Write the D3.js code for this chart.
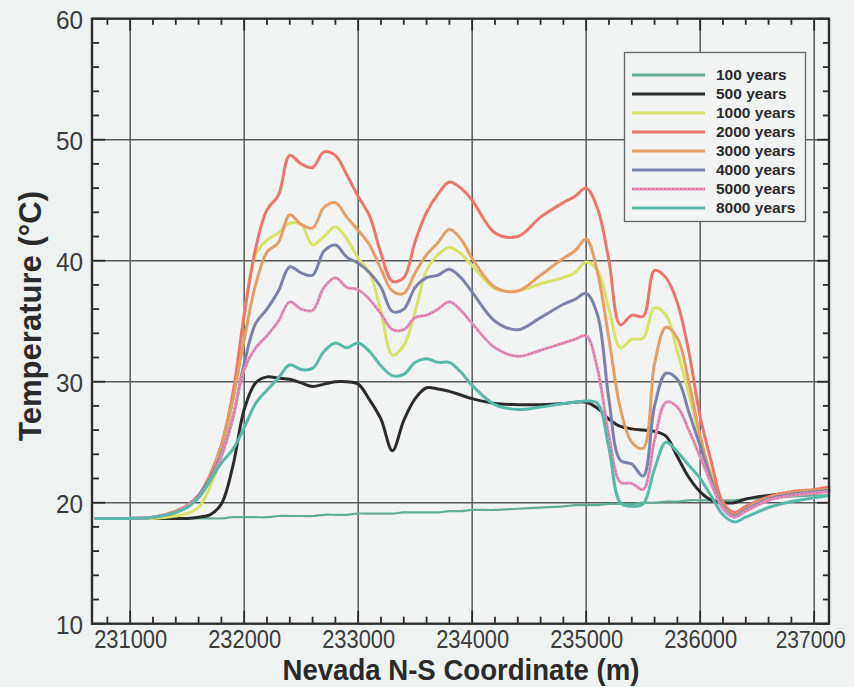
<!DOCTYPE html>
<html><head><meta charset="utf-8">
<script src="https://cdn.jsdelivr.net/npm/d3@7"></script>
<style>
html,body{margin:0;padding:0;background:#eef2f1;}
svg{display:block;}
text{font-family:"Liberation Sans Narrow","Arial Narrow","Liberation Sans",Arial,sans-serif;}
</style></head>
<body>
<svg id="chart" width="854" height="687"></svg>
<script>
// ---- data ----
const xCoords = [230700,231000,231200,231400,231500,231600,231700,231800,231900,232000,232100,232200,232300,232400,232500,232600,232700,232800,232900,233000,233100,233200,233300,233400,233500,233600,233700,233800,233900,234000,234200,234400,234600,234800,234900,235000,235100,235200,235300,235400,235500,235600,235700,235800,235900,236000,236100,236200,236300,236400,236600,236800,237000,237130];

const t100  = [18.7,18.7,18.7,18.7,18.7,18.7,18.7,18.7,18.8,18.8,18.8,18.8,18.9,18.9,18.9,18.9,19.0,19.0,19.0,19.1,19.1,19.1,19.1,19.2,19.2,19.2,19.2,19.3,19.3,19.4,19.4,19.5,19.6,19.7,19.8,19.8,19.8,19.9,19.9,19.9,20.0,20.0,20.1,20.1,20.2,20.2,20.2,20.2,20.2,20.3,20.4,20.5,20.6,20.6];
const t500  = [18.7,18.7,18.7,18.7,18.7,18.8,19.0,19.9,23.0,27.7,29.9,30.4,30.3,30.2,29.9,29.6,29.8,30.0,30.0,29.8,28.5,26.9,24.3,26.8,28.6,29.5,29.4,29.2,28.9,28.6,28.2,28.1,28.1,28.2,28.3,28.3,27.8,26.9,26.3,26.1,26.0,25.9,25.5,23.8,22.1,20.9,20.2,20.0,20.0,20.3,20.6,20.8,20.9,21.0];
const t1000 = [18.7,18.7,18.7,18.9,19.1,19.6,21.3,24.0,28.5,35.5,40.5,41.7,42.3,43.1,43.0,41.3,42.0,42.8,41.8,40.2,39.0,35.8,32.2,33.0,35.8,39.2,40.5,41.1,40.6,39.6,37.7,37.5,38.1,38.6,39.0,39.9,39.2,36.0,32.8,33.5,33.6,36.1,35.5,32.5,29.0,25.3,22.3,20.0,19.1,19.6,20.4,20.8,21.0,21.1];
const t2000 = [18.7,18.7,18.8,19.3,19.8,20.6,22.3,24.8,29.0,35.5,41.0,44.2,45.4,48.7,48.0,47.7,49.0,48.7,47.1,45.3,43.7,40.6,38.3,38.6,41.6,44.0,45.5,46.5,46.0,45.0,42.3,42.0,43.6,44.8,45.3,46.0,44.3,40.0,34.7,35.5,35.4,39.2,38.6,36.5,32.5,27.1,23.3,20.0,19.2,19.7,20.5,20.9,21.1,21.3];
const t3000 = [18.7,18.7,18.8,19.2,19.7,20.6,22.2,24.7,28.5,33.5,38.0,40.7,41.5,43.8,43.0,42.7,44.4,44.8,43.6,42.5,41.3,39.3,37.5,37.3,39.0,40.5,41.5,42.6,41.8,40.2,37.8,37.5,38.8,40.2,40.8,41.8,39.0,33.5,27.8,25.0,24.5,31.5,34.5,33.6,30.0,25.5,22.0,19.7,19.0,19.5,20.4,20.8,21.0,21.1];
const t4000 = [18.7,18.7,18.8,19.2,19.7,20.6,22.0,24.0,27.0,31.5,34.8,36.0,37.5,39.5,39.0,38.8,40.8,41.3,40.3,39.8,39.0,37.8,35.8,36.0,37.8,38.6,38.8,39.3,38.6,37.4,35.0,34.3,35.3,36.4,36.8,37.3,35.5,28.5,23.5,23.2,22.2,28.0,30.7,30.2,27.5,24.7,21.8,19.6,18.9,19.4,20.3,20.7,20.9,21.0];
const t5000 = [18.7,18.7,18.8,19.2,19.7,20.5,21.8,23.8,27.0,31.0,32.8,33.8,35.0,36.6,36.0,35.9,37.8,38.6,37.8,37.6,36.8,35.6,34.3,34.3,35.3,35.5,36.0,36.6,35.9,34.8,32.8,32.1,32.6,33.2,33.5,33.8,31.0,25.5,21.7,21.6,21.1,25.2,28.3,27.9,26.0,23.8,21.5,19.5,18.8,19.3,20.2,20.6,20.8,20.9];
const t8000 = [18.7,18.7,18.8,19.2,19.6,20.4,21.8,23.3,24.4,26.2,28.2,29.3,30.3,31.4,31.0,31.1,32.5,33.2,32.8,33.2,32.5,31.3,30.5,30.6,31.6,31.9,31.6,31.6,30.8,29.7,28.1,27.7,27.9,28.2,28.3,28.4,28.2,24.5,20.0,19.7,19.9,22.8,25.0,24.2,23.1,22.0,20.5,19.0,18.4,18.8,19.6,20.1,20.4,20.6];

const seriesNames = ["100 years","500 years","1000 years","2000 years","3000 years","4000 years","5000 years","8000 years"];
const seriesColors = ["#62ad93","#2b2b2b","#d9e266","#ec766d","#e39f66","#7b82aa","#df93c6","#57b9a9"];
const seriesValues = [t100,t500,t1000,t2000,t3000,t4000,t5000,t8000];

const xTicks = [231000,232000,233000,234000,235000,236000,237000];
const yTicks = [10,20,30,40,50,60];

// ---- layout ----
const svg = d3.select("#chart");
const L = 92, R = 829, T = 18.7, B = 623.7;
const x = d3.scaleLinear().domain([230665, 237130]).range([L, R]);
const y = d3.scaleLinear().domain([10, 60]).range([B, T]);
const FONT = "Liberation Sans Narrow, Arial Narrow, Liberation Sans, Arial, sans-serif";

svg.append("rect").attr("x",L).attr("y",T).attr("width",R-L).attr("height",B-T).attr("fill","#f1f4f3");

// grid
const g = svg.append("g");
g.selectAll("line.vg").data(xTicks).join("line").attr("class","vg")
  .attr("x1",d=>x(d)).attr("x2",d=>x(d)).attr("y1",T).attr("y2",B)
  .attr("stroke","#575b5e").attr("stroke-width",1.5);
g.selectAll("line.hg").data(yTicks.slice(1,-1)).join("line").attr("class","hg")
  .attr("x1",L).attr("x2",R).attr("y1",d=>y(d)).attr("y2",d=>y(d))
  .attr("stroke","#575b5e").attr("stroke-width",1.5);

// inward tick marks on all four sides
const xMinor = d3.range(230800, 237130, 200).filter(v => v % 1000 !== 0);
const yMinor = d3.range(12, 60, 2).filter(v => v % 10 !== 0);
const tk = svg.append("g").attr("stroke","#2a2a2a").attr("stroke-width",1.8);
[[xMinor,7],[xTicks,13]].forEach(([vals,len])=>{
  tk.append("g").selectAll("line").data(vals).join("line")
    .attr("x1",d=>x(d)).attr("x2",d=>x(d)).attr("y1",B).attr("y2",B-len);
  tk.append("g").selectAll("line").data(vals).join("line")
    .attr("x1",d=>x(d)).attr("x2",d=>x(d)).attr("y1",T).attr("y2",T+len-1);
});
[[yMinor,7],[yTicks,13]].forEach(([vals,len])=>{
  tk.append("g").selectAll("line").data(vals).join("line")
    .attr("y1",d=>y(d)).attr("y2",d=>y(d)).attr("x1",L).attr("x2",L+len);
  tk.append("g").selectAll("line").data(vals).join("line")
    .attr("y1",d=>y(d)).attr("y2",d=>y(d)).attr("x1",R).attr("x2",R-len+1);
});

// tick labels via d3 axes
const bm = svg.append("g").attr("transform",`translate(0,${B})`)
  .call(d3.axisBottom(x).tickValues(xTicks).tickSize(0).tickFormat(d3.format("d")));
bm.select(".domain").remove();
bm.selectAll("text").attr("y",24).attr("dy",0).attr("font-size",25).attr("fill","#3a3a3a")
  .attr("font-family",FONT).attr("textLength",73).attr("lengthAdjust","spacingAndGlyphs");
bm.selectAll("text").filter(d=>d===237000).attr("font-size",24).attr("text-anchor","end").attr("x",31).attr("textLength",70);
const lm = svg.append("g").attr("transform",`translate(${L},0)`)
  .call(d3.axisLeft(y).tickValues(yTicks).tickSize(0).tickFormat(d3.format("d")));
lm.select(".domain").remove();
lm.selectAll("text").attr("x",-9).attr("dy","0.36em").attr("text-anchor","end").attr("font-size",26).attr("fill","#3a3a3a")
  .attr("font-family",FONT).attr("textLength",27).attr("lengthAdjust","spacingAndGlyphs");

// curves
const line = d3.line().x((d,i)=>x(xCoords[i])).y(d=>y(d)).curve(d3.curveCatmullRom.alpha(0.5));
const lines = svg.append("g");
seriesValues.forEach((vals,k)=>{
  lines.append("path").attr("d",line(vals)).attr("fill","none")
    .attr("stroke",seriesColors[k]).attr("stroke-width",k===0?2.2:3)
    .attr("stroke-linejoin","round").attr("stroke-linecap","round");
  if(k===6){
    lines.append("path").attr("d",line(vals)).attr("fill","none")
      .attr("stroke","#e0605a").attr("stroke-width",0.9).attr("stroke-dasharray","2,2");
  }
});

// frame
svg.append("rect").attr("x",L).attr("y",T).attr("width",R-L).attr("height",B-T)
  .attr("fill","none").attr("stroke","#2e2e2e").attr("stroke-width",2.4);

// legend
const lg = svg.append("g");
lg.append("rect").attr("x",624.5).attr("y",52.5).attr("width",181).attr("height",169)
  .attr("fill","#f1f4f3").attr("stroke","#666").attr("stroke-width",1.3);
seriesNames.forEach((name,k)=>{
  const yy = 75 + k*19;
  lg.append("line").attr("x1",632).attr("x2",705).attr("y1",yy).attr("y2",yy)
    .attr("stroke",seriesColors[k]).attr("stroke-width",k===1?3.2:2.8);
  if(k===6) lg.append("line").attr("x1",632).attr("x2",705).attr("y1",yy).attr("y2",yy)
    .attr("stroke","#e0605a").attr("stroke-width",0.9).attr("stroke-dasharray","2,2");
  lg.append("text").attr("x",716).attr("y",yy+5).attr("font-size",15.5).attr("font-weight","bold")
    .attr("fill","#2a2a2a").text(name);
});

// axis titles
svg.append("text").attr("x",461).attr("y",680).attr("text-anchor","middle")
  .attr("font-size",29).attr("font-weight","bold").attr("fill","#2a2a2a")
  .attr("textLength",357).attr("lengthAdjust","spacingAndGlyphs").text("Nevada N-S Coordinate (m)");
svg.append("text").attr("transform","translate(41,316) rotate(-90)").attr("text-anchor","middle")
  .attr("font-size",31).attr("font-weight","bold").attr("fill","#2a2a2a")
  .attr("textLength",250).attr("lengthAdjust","spacingAndGlyphs").text("Temperature (°C)");
</script>
</body></html>
